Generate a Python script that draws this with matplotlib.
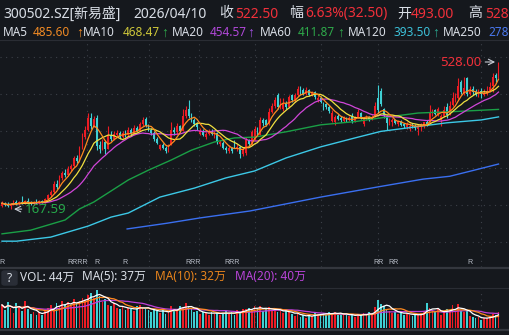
import numpy as np
import pandas as pd
import matplotlib
matplotlib.use('Agg')
import matplotlib.pyplot as plt
from matplotlib.patches import FancyBboxPatch
import matplotlib.transforms as mtransforms

plt.rcParams['font.family'] = ['Noto Sans', 'Noto Sans CJK SC', 'DejaVu Sans']

# 日K数据 (2025/07 - 2026/04/10)
OPEN = [176, 182, 178, 175, 180, 186, 181, 186, 183, 187, 184, 180, 185, 183, 188,
        185, 192, 201, 210, 228, 222, 244, 256, 250, 266, 272, 292, 286, 316, 345,
        362, 392, 372, 392, 325, 316, 332, 316, 350, 340, 350, 355, 345, 354, 350,
        362, 352, 366, 360, 376, 388, 372, 362, 354, 340, 316, 324, 318, 310, 326,
        362, 356, 370, 360, 396, 414, 396, 386, 376, 352, 360, 344, 352, 360, 346,
        354, 326, 330, 318, 310, 318, 334, 314, 320, 302, 306, 336, 328, 340, 364,
        350, 386, 386, 376, 406, 420, 448, 418, 412, 428, 418, 446, 434, 446, 466,
        460, 450, 460, 448, 454, 434, 440, 428, 424, 418, 384, 380, 396, 392, 384,
        391, 385, 396, 384, 392, 402, 376, 388, 394, 388, 396, 440, 458, 412, 396,
        378, 382, 386, 376, 382, 375, 368, 365, 374, 372, 364, 368, 370, 382, 378,
        400, 410, 398, 385, 396, 418, 400, 422, 432, 440, 480, 452, 488, 450, 462,
        456, 446, 458, 446, 452, 458, 468, 496, 493]
HIGH = [188, 186, 184, 182, 190, 189, 188, 200, 190, 194, 188, 187, 192, 190, 191,
        196, 204, 214, 236, 240, 250, 262, 266, 272, 278, 298, 300, 322, 355, 372,
        402, 404, 396, 398, 334, 340, 336, 372, 358, 360, 362, 360, 360, 362, 368,
        366, 374, 372, 382, 394, 394, 376, 366, 358, 345, 328, 330, 322, 328, 380,
        368, 378, 374, 412, 420, 434, 402, 392, 380, 366, 364, 356, 364, 364, 358,
        356, 338, 334, 322, 324, 320, 338, 328, 322, 320, 344, 340, 362, 370, 368,
        394, 390, 388, 416, 428, 442, 452, 440, 440, 432, 448, 450, 452, 468, 468,
        464, 466, 462, 458, 456, 446, 444, 430, 428, 422, 410, 398, 400, 396, 396,
        394, 396, 402, 396, 412, 406, 394, 398, 396, 398, 430, 472, 464, 415, 398,
        392, 390, 388, 386, 385, 378, 380, 378, 378, 375, 376, 378, 382, 385, 423,
        412, 412, 418, 400, 420, 428, 432, 454, 452, 490, 485, 492, 492, 468, 468,
        462, 462, 464, 462, 468, 480, 502, 500, 528]
LOW = [172, 176, 172, 167.59, 177, 178, 178, 180, 179, 182, 178, 177, 181, 180, 182,
       183, 190, 198, 208, 218, 220, 240, 246, 248, 260, 270, 280, 284, 314, 340,
       358, 365, 368, 312, 306, 312, 302, 314, 334, 336, 344, 340, 342, 344, 346,
       348, 350, 356, 358, 372, 368, 358, 350, 334, 326, 312, 314, 305, 308, 324,
       350, 352, 356, 358, 392, 390, 380, 372, 362, 348, 346, 340, 348, 348, 342,
       326, 322, 314, 306, 306, 306, 318, 310, 292, 298, 300, 322, 324, 336, 348,
       348, 372, 372, 374, 402, 416, 412, 414, 408, 414, 416, 430, 430, 444, 448,
       446, 448, 444, 444, 438, 430, 428, 410, 414, 404, 380, 374, 386, 382, 382,
       382, 383, 378, 382, 390, 388, 372, 386, 384, 386, 394, 404, 420, 392, 362,
       374, 372, 375, 372, 370, 366, 365, 360, 366, 362, 350, 358, 366, 372, 376,
       395, 398, 395, 370, 394, 390, 398, 420, 430, 438, 450, 448, 444, 446, 448,
       444, 442, 440, 444, 448, 454, 455, 478, 488]
CLOSE = [182, 178, 176, 180, 186, 181, 185, 183, 187, 184, 180, 185, 183, 188, 185,
         192, 201, 210, 228, 222, 244, 256, 250, 266, 272, 292, 286, 316, 345, 362,
         390, 372, 388, 322, 315, 332, 316, 348, 340, 352, 355, 345, 354, 348, 362,
         352, 366, 360, 376, 386, 372, 362, 354, 340, 330, 324, 318, 310, 324, 362,
         356, 370, 360, 396, 410, 396, 386, 376, 368, 360, 350, 352, 358, 352, 354,
         334, 332, 318, 312, 318, 310, 322, 320, 302, 314, 336, 328, 356, 364, 354,
         386, 378, 374, 406, 420, 436, 418, 434, 428, 418, 442, 434, 446, 462, 454,
         450, 460, 448, 454, 442, 440, 430, 414, 418, 408, 402, 394, 388, 385, 391,
         385, 392, 384, 390, 405, 390, 388, 394, 388, 394, 420, 410, 425, 398, 378,
         388, 386, 378, 383, 374, 370, 376, 372, 370, 366, 372, 375, 380, 376, 405,
         408, 400, 412, 395, 410, 398, 420, 440, 437, 470, 455, 465, 450, 458, 455,
         448, 450, 450, 452, 458, 467, 492, 490, 522.5]

# 成交量 (万手)
VOLUME = [62, 48, 70, 55, 40, 66, 58, 45, 72, 50, 38, 44, 35, 42, 36,
          48, 55, 62, 50, 68, 58, 72, 64, 70, 60, 78, 66, 74, 82, 76,
          88, 95, 80, 103, 85, 70, 78, 62, 58, 66, 55,
          52, 60, 48, 55, 50, 45, 58, 62, 55, 50,
          48, 42, 52, 45, 40, 50, 38, 44, 58, 52,
          48, 60, 55, 66, 58, 50, 42, 45, 38, 42,
          40, 36, 44, 38, 42, 35, 40, 45, 38, 42, 36, 48, 44, 52, 50,
          55, 48, 60, 52, 58, 45, 50, 56, 48, 52, 44, 46, 40, 48, 42,
          38, 32, 40, 30, 34, 28, 36, 30, 42, 38, 35, 40, 36, 44, 38,
          42, 36, 40, 34, 38, 32, 36, 30, 38, 34, 40, 36, 42, 38, 56,
          76, 65, 58, 52, 46, 40, 44, 38, 42, 36, 40, 35, 32, 38, 34,
          40, 45, 68, 55, 48, 42, 50, 36,
          44, 52, 48, 62, 45, 65, 45, 42, 45, 32,
          30, 26, 30, 22, 27,
          28, 32, 37, 36, 44]

# 长周期均线 (取样点: K线序号, 价格)
MA60_IDX = [0, 10, 22, 27, 32, 38, 44, 51, 59, 66, 74, 81, 88, 99, 111, 123, 133, 145, 156, 173]
MA60_VAL = [107, 116, 141, 168, 185, 212, 239, 263, 288, 312, 332, 342, 344, 357, 374, 382, 392, 403, 406, 411.87]
MA120_IDX = [0, 5, 17, 30, 38, 44, 55, 67, 78, 88, 99, 111, 123, 132, 144, 155, 167, 173]
MA120_VAL = [89, 89, 99, 126, 148, 158, 197, 219, 244, 261, 293, 320, 342, 358, 369, 379, 386, 393.5]
MA250_IDX = [43.6, 57.5, 69, 86.4, 111, 131, 146.7, 156, 164, 173]
MA250_VAL = [119, 133, 146, 163, 197, 222, 241, 248, 262, 278]

# 每月分隔线位置、除权标记
MONTH_LINES = [29.6, 51.2, 68.6, 88.2, 111.1, 131, 166.9]
R_MARKS = [(0, 'R'), (26.5, 'RRRR'), (33, 'R'), (43, 'R'), (66.5, 'RRR'),
           (80, 'RRR'), (131.3, 'RR'), (136.3, 'RR'), (163, 'R')]

BG = '#15181d'
WHITE = '#d9dee6'
RED = '#ec1c24'
TXT_RED = '#f0303a'
CYAN = '#3fd0d4'
C_MA5 = '#ff8a1e'
C_MA10 = '#f0e040'
C_MA20 = '#d046d8'
C_MA60 = '#1a9f46'
C_MA120 = '#3cc8e6'
C_MA250 = '#3a6ff0'
GRID = '#3c4048'

W, H = 509, 335
fig = plt.figure(figsize=(W / 100, H / 100), dpi=100, facecolor=BG)


def fy(y):
    return 1 - y / H


idx = np.arange(len(CLOSE))
o = np.array(OPEN, dtype=float)
c = np.array(CLOSE, dtype=float)
hi = np.array(HIGH, dtype=float)
lo = np.array(LOW, dtype=float)
colors = np.where(c >= o, RED, CYAN)
xlim = (-0.7, 176.66)
dots = (0, (1, 4))

# 主图
ax = fig.add_axes([0, fy(267), 1, (267 - 40) / H])
ax.set_facecolor(BG)
ax.set_xlim(*xlim)
ax.set_ylim(25.75, 581.9)
ax.axis('off')

for gy in 540 - 90.4 * np.arange(6):
    ax.axhline(gy, color=GRID, lw=0.8, ls=dots, zorder=0)
for gx in MONTH_LINES:
    ax.axvline(gx, color=GRID, lw=0.8, ls=dots, zorder=0)

ax.vlines(idx, lo, hi, colors=colors, lw=0.8, zorder=2)
ax.bar(idx, np.maximum(np.abs(c - o), 1.0), bottom=np.minimum(o, c),
       width=0.6, color=colors, linewidth=0, zorder=2)

close_s = pd.Series(c)
ax.plot(MA250_IDX, MA250_VAL, color=C_MA250, lw=1.0, zorder=3)
ax.plot(MA120_IDX, MA120_VAL, color=C_MA120, lw=1.0, zorder=3)
ax.plot(MA60_IDX, MA60_VAL, color=C_MA60, lw=1.0, zorder=3)
for n, col in [(20, C_MA20), (10, C_MA10), (5, C_MA5)]:
    ax.plot(idx, close_s.rolling(n, min_periods=1).mean(), color=col, lw=0.9, zorder=4)

# 最高/最低价标注
i_hi = int(np.argmax(hi))
i_lo = int(np.argmin(lo))
ax.annotate('', xy=(i_hi - 0.2, hi[i_hi]), xytext=(i_hi - 5.6, hi[i_hi]),
            arrowprops=dict(arrowstyle='->', color='#c9ced6', lw=0.8), zorder=5)
ax.text(i_hi - 5.8, hi[i_hi], f'{hi[i_hi]:.2f}', color=TXT_RED, fontsize=9.5,
        ha='right', va='center', zorder=5)
ax.annotate('', xy=(i_lo + 0.2, lo[i_lo]), xytext=(i_lo + 4.8, lo[i_lo]),
            arrowprops=dict(arrowstyle='->', color='#c9ced6', lw=0.8), zorder=5)
ax.text(i_lo + 5.0, lo[i_lo], f'{lo[i_lo]:.2f}', color='#26a84a', fontsize=9.5,
        ha='left', va='center', zorder=5)

trans = mtransforms.blended_transform_factory(ax.transData, ax.transAxes)
for r, s in R_MARKS:
    ax.text(r, 0.022, s, transform=trans, fontsize=5, color='#b9bec8',
            ha='center', va='center', family='Liberation Sans')

# 成交量副图
axv = fig.add_axes([0, fy(328), 1, (328 - 289) / H])
axv.set_facecolor(BG)
axv.set_xlim(*xlim)
axv.set_ylim(0, 105)
axv.axis('off')
for gx in MONTH_LINES:
    axv.axvline(gx, color=GRID, lw=0.8, ls=dots, zorder=0)
axv.bar(idx, VOLUME, width=0.6, color=colors, linewidth=0, zorder=2)
vol_s = pd.Series(VOLUME, dtype=float)
for n, col in [(20, '#c040d8'), (10, C_MA5), (5, '#ffffff')]:
    axv.plot(idx, vol_s.rolling(n, min_periods=1).mean(), color=col, lw=0.9, zorder=3)

# 分隔线
for y, lw, col in [(40, 0.8, '#2a2d34'), (267.5, 1.6, '#34373e'),
                   (288, 0.8, '#2a2d34'), (329.5, 1.6, '#34373e')]:
    fig.add_artist(plt.Line2D([0, 1], [fy(y), fy(y)], color=col, lw=lw,
                              transform=fig.transFigure))

# 标题行
row1 = [(3, '300502.SZ[新易盛]', WHITE), (133, '2026/04/10', WHITE),
        (219, '收', WHITE), (235, '522.50', TXT_RED), (289, '幅', WHITE),
        (305, '6.63%(32.50)', TXT_RED), (397, '开', WHITE), (411, '493.00', TXT_RED),
        (468, '高', WHITE), (485, '528', TXT_RED)]
for x, s, col in row1:
    fig.text(x / W, fy(14), s, color=col, fontsize=10, ha='left', va='center')

row2 = [(3, 'MA5', WHITE), (33, '485.60', '#f08a24'),
        (83, 'MA10', WHITE), (123, '468.47', '#cfc83a'),
        (172, 'MA20', WHITE), (210, '454.57', '#b048d8'),
        (260, 'MA60', WHITE), (298, '411.87', '#2ea84a'),
        (348, 'MA120', WHITE), (393, '393.50', '#3cc0d8'),
        (443, 'MA250', WHITE), (488, '278', '#4a78f0')]
for x, s, col in row2:
    fig.text(x / W, fy(33), s, color=col, fontsize=8.5, ha='left', va='center')

# 均线上行箭头
ups = [(80, '#f08a24'), (165, '#2ea84a'), (251, '#a050e0'),
       (341, '#2ea84a'), (436, '#2aa890')]
for x, col in ups:
    fig.text(x / W, fy(33), '↑', color=col, fontsize=10, ha='center', va='center',
             family=['Liberation Sans', 'DejaVu Sans'])

# 成交量标题
fig.add_artist(FancyBboxPatch((2 / W, fy(285)), 15 / W, 14 / H,
                              boxstyle='round,pad=0,rounding_size=0.005',
                              transform=fig.transFigure, color='#2a2e37'))
fig.text(9.5 / W, fy(278), '?', color=WHITE, fontsize=8.5, ha='center', va='center')
row3 = [(20, 'VOL: 44万', WHITE), (82, 'MA(5): 37万', WHITE),
        (155, 'MA(10): 32万', '#e8841c'), (235, 'MA(20): 40万', '#b844d8')]
for x, s, col in row3:
    fig.text(x / W, fy(277), s, color=col, fontsize=8.5, ha='left', va='center')

fig.savefig('out.png', dpi=100, facecolor=BG)
